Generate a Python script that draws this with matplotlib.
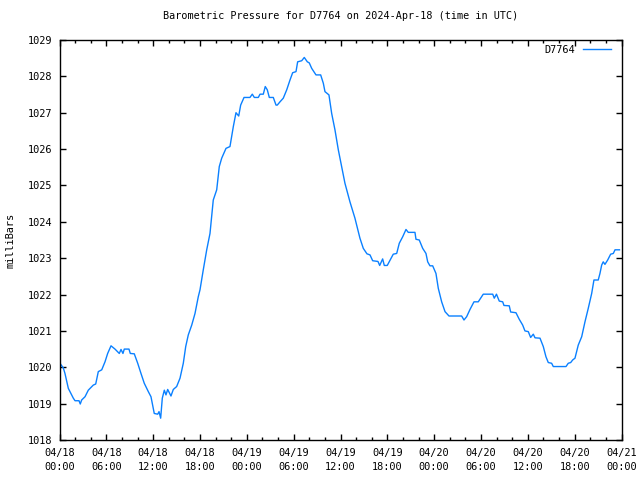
import matplotlib
matplotlib.use("Agg")
import matplotlib.pyplot as plt
import matplotlib.dates as mdates
import numpy as np
import pandas as pd

# hours since 2024-04-18 00:00 UTC
hours = [0.06, 0.49, 0.70, 1.13, 1.77, 1.99, 2.50, 2.66, 2.84, 3.27, 3.69, 4.33, 4.64, 4.97,
         5.41, 5.83, 6.17, 6.60, 7.11, 7.66, 7.88, 8.13, 8.30, 8.90, 9.07, 9.58, 10.02, 10.44,
         10.86, 11.38, 11.72, 12.14, 12.58, 12.75, 12.96, 13.17, 13.43, 13.64, 13.86, 14.28,
         14.58, 15.01, 15.44, 15.86, 16.17, 16.50, 16.94, 17.36, 17.78, 18.00, 18.42, 18.86,
         19.28, 19.70, 20.14, 20.47, 20.78, 21.33, 21.84, 22.27, 22.61, 22.96, 23.21, 23.64,
         24.40, 24.70, 24.96, 25.47, 25.69, 26.11, 26.36, 26.62, 26.88, 27.39, 27.74, 27.90,
         28.25, 28.67, 29.11, 29.53, 29.87, 30.30, 30.51, 31.03, 31.36, 31.75, 32.00, 32.31,
         32.86, 33.46, 33.80, 34.01, 34.52, 34.87, 35.29, 35.72, 36.15, 36.57, 37.21, 37.85,
         38.49, 38.92, 39.39, 39.78, 40.12, 40.80, 41.02, 41.40, 41.61, 41.99, 42.43, 42.76,
         43.20, 43.53, 43.97, 44.39, 44.68, 45.54, 45.67, 46.09, 46.53, 46.95, 47.17, 47.46,
         47.81, 48.23, 48.53, 48.96, 49.39, 49.90, 51.52, 51.82, 52.16, 52.59, 53.10, 53.65,
         53.96, 54.29, 55.50, 55.70, 55.98, 56.34, 56.78, 56.94, 57.62, 57.80, 58.48, 58.90,
         59.34, 59.63, 60.06, 60.36, 60.70, 60.92, 61.56, 61.98, 62.32, 62.62, 63.05, 63.26,
         64.89, 65.18, 65.49, 65.74, 66.04, 66.46, 66.90, 67.32, 67.74, 68.18, 68.47, 69.02,
         69.24, 69.46, 69.66, 69.88, 70.23, 70.61, 70.95, 71.17, 71.74]
pressure = [1020.11, 1019.98, 1019.83, 1019.42, 1019.15, 1019.08, 1019.08, 1018.99, 1019.10,
            1019.19, 1019.37, 1019.51, 1019.54, 1019.88, 1019.93, 1020.15, 1020.38, 1020.59,
            1020.50, 1020.38, 1020.49, 1020.38, 1020.50, 1020.50, 1020.38, 1020.37, 1020.11,
            1019.83, 1019.56, 1019.33, 1019.19, 1018.73, 1018.71, 1018.78, 1018.60, 1019.15,
            1019.37, 1019.24, 1019.39, 1019.21, 1019.39, 1019.47, 1019.70, 1020.11, 1020.57,
            1020.89, 1021.16, 1021.48, 1021.94, 1022.13, 1022.68, 1023.23, 1023.68, 1024.60,
            1024.88, 1025.52, 1025.75, 1026.02, 1026.07, 1026.62, 1027.00, 1026.91, 1027.21,
            1027.42, 1027.42, 1027.51, 1027.42, 1027.42, 1027.51, 1027.51, 1027.72, 1027.63,
            1027.42, 1027.42, 1027.21, 1027.21, 1027.30, 1027.40, 1027.63, 1027.90, 1028.10,
            1028.13, 1028.40, 1028.43, 1028.52, 1028.40, 1028.37, 1028.22, 1028.04, 1028.04,
            1027.81, 1027.58, 1027.49, 1026.98, 1026.53, 1025.98, 1025.52, 1025.06, 1024.55,
            1024.10, 1023.55, 1023.27, 1023.12, 1023.09, 1022.93, 1022.91, 1022.80, 1022.98,
            1022.80, 1022.80, 1022.98, 1023.11, 1023.13, 1023.41, 1023.59, 1023.79, 1023.71,
            1023.71, 1023.52, 1023.50, 1023.27, 1023.13, 1022.90, 1022.79, 1022.79, 1022.58,
            1022.17, 1021.80, 1021.53, 1021.41, 1021.41, 1021.30, 1021.39, 1021.59, 1021.80,
            1021.80, 1021.90, 1022.01, 1022.01, 1021.90, 1022.01, 1021.82, 1021.80, 1021.70,
            1021.69, 1021.52, 1021.50, 1021.32, 1021.16, 1021.00, 1020.98, 1020.82, 1020.91,
            1020.81, 1020.80, 1020.57, 1020.29, 1020.13, 1020.11, 1020.02, 1020.02, 1020.11,
            1020.13, 1020.20, 1020.25, 1020.61, 1020.84, 1021.25, 1021.62, 1022.03, 1022.40,
            1022.40, 1022.58, 1022.81, 1022.90, 1022.83, 1022.95, 1023.11, 1023.13, 1023.23,
            1023.23]

start = pd.Timestamp("2024-04-18 00:00")
times = start + pd.to_timedelta(hours, unit="h")
station = "D7764"

plt.rcParams["font.family"] = "DejaVu Sans Mono"
plt.rcParams["font.size"] = 7.4

fig = plt.figure(figsize=(6.4, 4.8), dpi=100)
ax = fig.add_axes([59.5 / 640, 40 / 480, 562 / 640, 400 / 480])

ax.plot(times, pressure, color="#0a80ff", linewidth=1.0, label=station)

ax.set_xlim(start, start + pd.Timedelta(hours=72))
ax.set_ylim(1018, 1029)
ax.yaxis.set_major_locator(plt.MultipleLocator(1))
ax.xaxis.set_major_locator(mdates.HourLocator(byhour=[0, 6, 12, 18]))
ax.xaxis.set_minor_locator(mdates.HourLocator(byhour=range(0, 24, 2)))
ax.xaxis.set_major_formatter(mdates.DateFormatter("%m/%d\n%H:%M"))

ax.tick_params(which="both", direction="in", top=True, right=True, width=1, colors="black")
ax.tick_params(which="major", length=4.5)
ax.tick_params(axis="x", which="major", pad=6)
ax.tick_params(axis="y", which="major", pad=5)
ax.tick_params(which="minor", length=2.5)
for lbl in ax.get_xticklabels():
    lbl.set_linespacing(1.45)
for s in ax.spines.values():
    s.set_linewidth(1)

ax.set_title("Barometric Pressure for D7764 on 2024-Apr-18 (time in UTC)", fontsize=7.3, pad=15)
ax.set_ylabel("milliBars", labelpad=9)
ax.legend(loc="upper right", frameon=False, markerfirst=False, handlelength=2.7,
          handletextpad=0.8, borderaxespad=0.2, bbox_to_anchor=(0.992, 1.003))

fig.savefig("out.png", dpi=100)
